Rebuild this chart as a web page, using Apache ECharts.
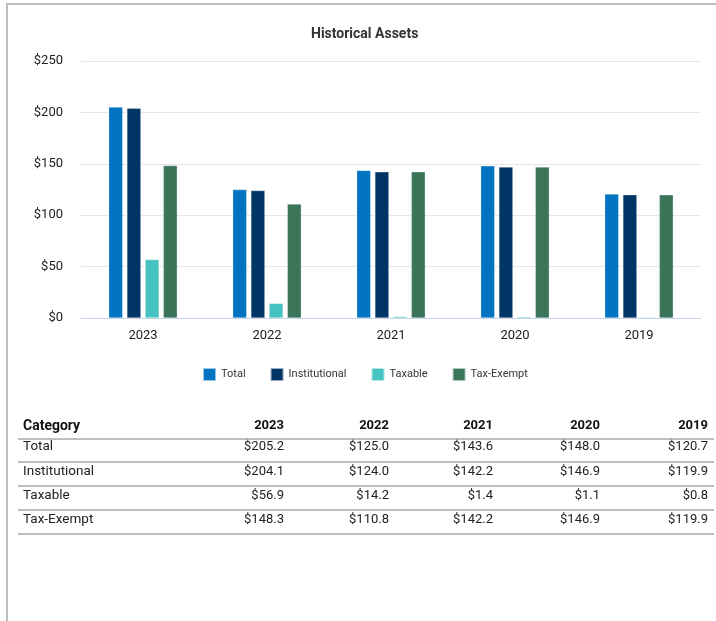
<!DOCTYPE html>
<html>
<head>
<meta charset="utf-8">
<script src="https://cdn.jsdelivr.net/npm/echarts@6/dist/echarts.min.js"></script>
<style>
html,body{margin:0;padding:0;background:#fff;}
#frame{position:absolute;left:6px;top:3px;width:760px;height:616px;border-left:2px solid #bdbdbd;border-top:2px solid #bdbdbd;border-bottom:1px solid #d9d9d9;}
#chart{position:absolute;left:0;top:0;width:716px;height:621px;}
</style>
</head>
<body>
<div id="frame"></div>
<div id="chart"></div>
<script>
var years = ['2023', '2022', '2021', '2020', '2019'];
var total = [205.2, 125.0, 143.6, 148.0, 120.7];
var institutional = [204.1, 124.0, 142.2, 146.9, 119.9];
var taxable = [56.9, 14.2, 1.4, 1.1, 0.8];
var taxExempt = [148.3, 110.8, 142.2, 146.9, 119.9];
var seriesNames = ['Total', 'Institutional', 'Taxable', 'Tax-Exempt'];
var seriesColors = ['#0074c1', '#003566', '#45c3c1', '#3a755a'];
var yTicks = [0, 50, 100, 150, 200, 250];

var seriesData = [total, institutional, taxable, taxExempt];
var fontFam = 'Roboto, "Noto Sans", sans-serif';

var series = seriesNames.map(function (n, i) {
  return {
    name: n, type: 'bar', data: seriesData[i],
    barWidth: 14, barGap: '30%',
    itemStyle: { color: seriesColors[i], borderColor: 'rgba(255,255,255,0.6)', borderWidth: 0.5 }
  };
});

// table graphics
var g = [];
var colRight = [284, 389, 493, 600, 708];
var headY = 426, rowY = [447, 472, 496, 520], lineY = [439, 462, 486, 510, 534];
g.push({ type: 'text', x: 23, y: headY, style: { text: 'Category', font: 'bold 14px ' + fontFam, fill: '#111', textVerticalAlign: 'middle' } });
years.forEach(function (y, j) {
  g.push({ type: 'text', x: colRight[j], y: headY, style: { text: y, font: 'bold 13px ' + fontFam, fill: '#111', textAlign: 'right', textVerticalAlign: 'middle' } });
});
seriesNames.forEach(function (n, i) {
  g.push({ type: 'text', x: 23, y: rowY[i], style: { text: n, font: '13.5px ' + fontFam, fill: '#222', textVerticalAlign: 'middle' } });
  seriesData[i].forEach(function (v, j) {
    g.push({ type: 'text', x: colRight[j], y: rowY[i], style: { text: '$' + v.toFixed(1), font: '13px ' + fontFam, fill: '#222', textAlign: 'right', textVerticalAlign: 'middle' } });
  });
});
lineY.forEach(function (ly) {
  g.push({ type: 'line', shape: { x1: 18, y1: ly, x2: 714, y2: ly }, style: { stroke: '#a8a8a8', lineWidth: 1.5 } });
});

var chart = echarts.init(document.getElementById('chart'), null, { renderer: 'canvas' });
chart.setOption({
  animation: false,
  textStyle: { fontFamily: fontFam },
  title: {
    text: 'Historical Assets', left: 306, top: 22,
    textStyle: { fontSize: 14, fontWeight: 'bold', color: '#333', fontFamily: fontFam }
  },
  legend: {
    data: seriesNames, left: 197, top: 362, itemWidth: 13, itemHeight: 13, itemGap: 24,
    icon: 'rect',
    textStyle: { fontSize: 11, color: '#333', fontFamily: fontFam }
  },
  grid: { left: 81, right: 15, top: 61, bottom: 303, containLabel: false },
  xAxis: {
    type: 'category', data: years,
    axisLine: { lineStyle: { color: '#c5d3e8', width: 1 } },
    axisTick: { show: false },
    axisLabel: { fontSize: 13, color: '#222', margin: 11, fontFamily: fontFam }
  },
  yAxis: {
    type: 'value', min: yTicks[0], max: yTicks[yTicks.length - 1], interval: 50,
    axisLine: { show: false }, axisTick: { show: false },
    splitLine: { lineStyle: { color: '#e6e6e6', width: 1 } },
    axisLabel: { fontSize: 13, color: '#222', margin: 18, fontFamily: fontFam, formatter: function (v) { return '$' + v; } }
  },
  series: series,
  graphic: g
});
</script>
</body>
</html>
